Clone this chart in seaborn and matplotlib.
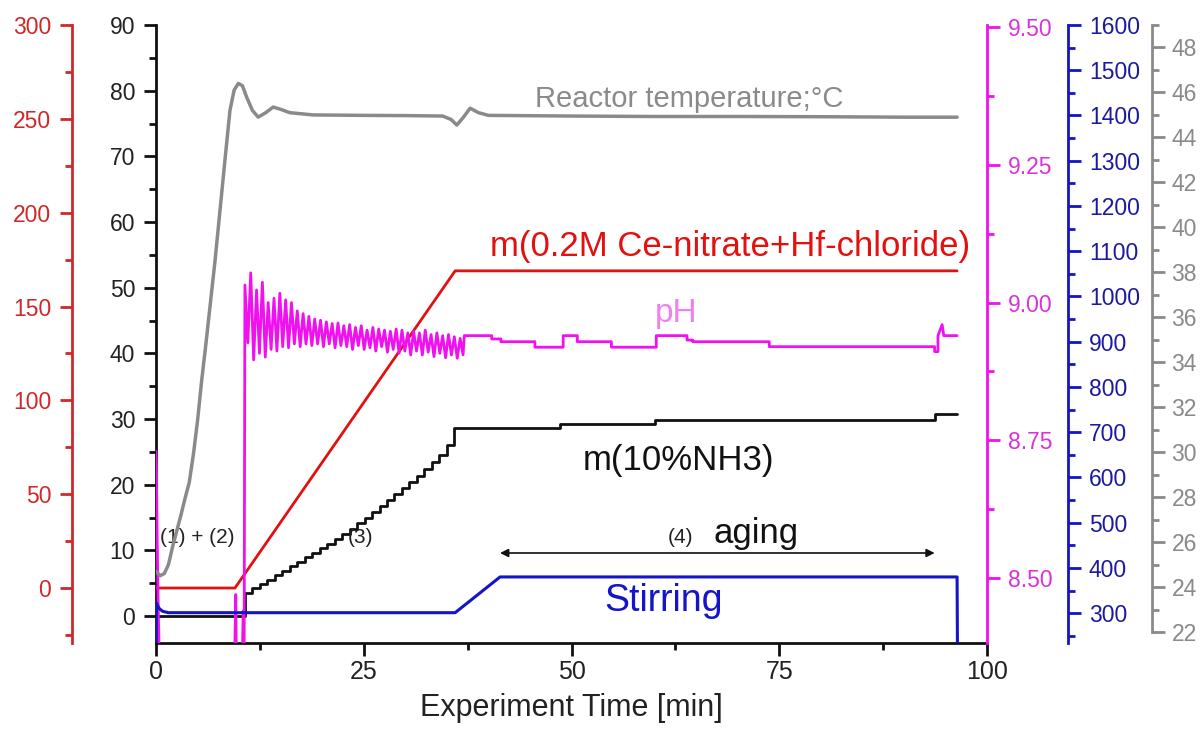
import numpy as np
import pandas as pd
import matplotlib
matplotlib.use('Agg')
import matplotlib.pyplot as plt
import seaborn as sns
from matplotlib.ticker import MultipleLocator, FormatStrFormatter

sns.set_theme(style='ticks')
plt.rcParams['font.family'] = ['Liberation Sans', 'DejaVu Sans']
NARROW = ['Liberation Sans Narrow', 'Liberation Sans', 'DejaVu Sans']

# ---------------- data ----------------
# Reactor temperature (grey axis, degC)
temp_t = [0.0, 0.5, 1.0, 1.5, 2.0, 2.5, 3.0, 3.5, 4.0, 4.5, 5.0, 5.5, 6.0, 7.1,
          8.3, 8.9, 9.4, 9.9, 10.4, 10.9, 11.6, 12.3, 13.2, 14.1, 15.0, 16.1,
          18.9, 25.0, 30.0, 34.5, 35.5, 36.2, 37.0, 37.8, 38.8, 40.0, 50.0, 60.0,
          70.0, 80.0, 90.0, 96.4]
temp_v = [24.7, 24.5, 24.6, 25.0, 25.8, 26.5, 27.2, 27.95, 28.65, 29.9, 31.4,
          33.2, 34.8, 38.5, 43.0, 45.2, 46.1, 46.4, 46.3, 45.8, 45.2, 44.9, 45.1,
          45.35, 45.25, 45.1, 45.0, 44.98, 44.97, 44.95, 44.8, 44.55, 44.9, 45.3,
          45.1, 44.98, 44.95, 44.93, 44.93, 44.92, 44.9, 44.9]

# m(0.2M Ce-nitrate + Hf-chloride) (red axis, g)
ce_t = [0.0, 9.5, 36.0, 96.4]
ce_v = [0.0, 0.0, 169.0, 169.0]

# m(10% NH3) (black axis, g) - stepwise dosing
nh3_t = [0.0, 10.7, 11.6, 12.5, 13.4, 14.3, 15.2, 16.1, 17.0, 17.9, 18.8, 19.7,
         20.6, 21.5, 22.4, 23.3, 24.2, 25.1, 26.0, 26.9, 27.8, 28.7, 29.6, 30.5,
         31.4, 32.3, 33.2, 34.1, 35.0, 35.9, 48.6, 60.0, 93.7, 96.4]
nh3_v = [0.0, 3.5, 4.2, 4.9, 5.5, 6.2, 6.9, 7.6, 8.3, 9.0, 9.6, 10.3, 11.0, 11.7,
         12.5, 13.3, 14.2, 15.0, 15.9, 16.8, 17.7, 18.6, 19.5, 20.4, 21.4, 22.4,
         23.4, 24.5, 26.0, 28.6, 29.2, 29.8, 30.8, 30.8]

# pH (magenta axis)
ph_t = [0.0, 0.05, 0.15, 0.3, 0.5, 9.4, 9.6, 9.7, 9.8, 10.3, 10.5, 10.6,
        10.70, 11.05, 11.40, 11.75, 12.10, 12.45, 12.80, 13.15, 13.50, 13.85,
        14.20, 14.55, 14.90, 15.25, 15.60, 15.95, 16.30, 16.65, 17.00, 17.35,
        17.70, 18.05, 18.40, 18.75, 19.10, 19.45, 19.80, 20.15, 20.50, 20.85,
        21.20, 21.55, 21.90, 22.25, 22.60, 22.95, 23.30, 23.65, 24.00, 24.35,
        24.70, 25.05, 25.40, 25.75, 26.10, 26.45, 26.80, 27.15, 27.50, 27.85,
        28.20, 28.55, 28.90, 29.25, 29.60, 29.95, 30.30, 30.65, 31.00, 31.35,
        31.70, 32.05, 32.40, 32.75, 33.10, 33.45, 33.80, 34.15, 34.50, 34.85,
        35.20, 35.55, 35.90, 36.25, 36.60, 36.95,
        37.1, 40.4, 40.4, 41.5, 41.5, 45.6, 45.6, 49.0, 49.0, 50.7, 50.7, 54.8,
        54.8, 60.2, 60.2, 63.9, 63.9, 64.6, 64.6, 73.8, 73.8, 93.7, 93.7, 94.1,
        94.1, 94.6, 94.8, 96.4]
ph_v = [8.73, 8.70, 8.56, 8.42, 8.30, 8.30, 8.47, 8.30, 8.30, 8.30, 8.44, 8.30,
        9.032, 8.927, 9.054, 8.896, 9.023, 8.908, 9.037, 8.901, 9.000, 8.915,
        9.008, 8.912, 9.017, 8.920, 9.005, 8.918, 9.000, 8.925, 8.985, 8.920,
        8.980, 8.925, 8.975, 8.922, 8.970, 8.925, 8.968, 8.920, 8.965, 8.925,
        8.962, 8.918, 8.963, 8.922, 8.958, 8.920, 8.960, 8.915, 8.955, 8.922,
        8.958, 8.915, 8.950, 8.918, 8.955, 8.912, 8.952, 8.920, 8.950, 8.910,
        8.948, 8.915, 8.952, 8.908, 8.950, 8.912, 8.945, 8.905, 8.948, 8.912,
        8.945, 8.905, 8.950, 8.910, 8.942, 8.902, 8.945, 8.908, 8.940, 8.900,
        8.942, 8.905, 8.938, 8.899, 8.935, 8.905,
        8.94, 8.94, 8.934, 8.934, 8.929, 8.929, 8.919, 8.919, 8.940, 8.940, 8.929,
        8.929, 8.919, 8.919, 8.940, 8.940, 8.932, 8.932, 8.929, 8.929, 8.920, 8.920,
        8.911, 8.911, 8.940, 8.960, 8.940, 8.940]

# Stirring (blue axis, rpm)
stir_t = [0.0, 0.05, 0.15, 0.4, 0.8, 1.5, 36.0, 41.4, 96.4, 96.45]
stir_v = [200, 322, 318, 310, 304, 301, 301, 380, 380, 200]

# axis tick values
x_ticks = [0, 25, 50, 75, 100]

# ---------------- figure ----------------
W, H = 1203, 729
fig = plt.figure(figsize=(W / 100, H / 100), dpi=100)
L, R, B, T = 156, 987, 643, 25
ax = fig.add_axes([L / W, 1 - B / H, (R - L) / W, (B - T) / H])

C_BLACK = '#111111'
C_RED_AX = '#d02828'
C_RED = '#e31010'
C_PINK = '#f010f0'
C_PINK_AX = '#dd30dd'
C_BLUE = '#1414c8'
C_BLUE_AX = '#1a1aa0'
C_GREY = '#8a8a8a'

ax_red = ax.twinx()
ax_ph = ax.twinx()
ax_blue = ax.twinx()
ax_grey = ax.twinx()

def pos(px):
    return (px - L) / (R - L)

def style_axis(a, side, color, offset_px, major, minor, lim, fmt,
               labelcolor=None, pad=4):
    for s in ['top', 'bottom', 'left', 'right']:
        a.spines[s].set_visible(False)
    a.spines[side].set_visible(True)
    a.spines[side].set_color(color)
    a.spines[side].set_linewidth(2.0)
    a.spines[side].set_position(('axes', pos(offset_px)))
    if side == 'left':
        a.yaxis.set_ticks_position('left')
    else:
        a.yaxis.set_ticks_position('right')
    a.set_ylim(*lim)
    a.yaxis.set_major_locator(MultipleLocator(major))
    a.yaxis.set_minor_locator(MultipleLocator(minor))
    a.yaxis.set_major_formatter(FormatStrFormatter(fmt))
    a.tick_params(axis='y', which='major', length=9, width=2, color=color,
                  labelcolor=labelcolor or color, labelsize=16.5, pad=pad,
                  direction='out')
    a.tick_params(axis='y', which='minor', length=5, width=2, color=color,
                  direction='out')
    a.grid(False)

# main (black) axis
for s in ['top', 'right']:
    ax.spines[s].set_visible(False)
for s in ['left', 'bottom']:
    ax.spines[s].set_color(C_BLACK)
    ax.spines[s].set_linewidth(2.0)
ax.set_xlim(0, 100)
ax.set_ylim(-4.1, 90)
ax.set_xticks(x_ticks)
ax.xaxis.set_minor_locator(MultipleLocator(12.5))
ax.yaxis.set_major_locator(MultipleLocator(10))
ax.yaxis.set_minor_locator(MultipleLocator(5))
ax.tick_params(axis='both', which='major', length=9, width=2, color=C_BLACK,
               labelcolor='#222222', labelsize=16.5, direction='out')
ax.tick_params(axis='both', which='minor', length=5, width=2, color=C_BLACK,
               direction='out')
ax.tick_params(axis='y', pad=6)
ax.tick_params(axis='x', labelsize=18, pad=3)
for lab in ax.get_xticklabels():
    lab.set_family(NARROW)
ax.grid(False)
ax.set_xlabel('Experiment Time [min]', fontsize=22, family=NARROW,
              color='#222222', labelpad=7)
ax.set_ylabel('')

style_axis(ax_red, 'left', C_RED_AX, 72, 50, 25, (-29.3, 300), '%d', pad=6)
style_axis(ax_ph, 'right', C_PINK, 987, 0.25, 0.125, (8.382, 9.504), '%.2f',
           C_PINK_AX, pad=6)
style_axis(ax_blue, 'right', C_BLUE, 1068, 100, 50, (234, 1600), '%d',
           C_BLUE_AX, pad=6)
style_axis(ax_grey, 'right', C_GREY, 1152, 2, 1, (21.51, 49.0), '%d', pad=5)
ax_grey.spines['right'].set_bounds(22, 49)
ax_grey.set_yticks(list(range(22, 49, 2)))

# ---------------- lines ----------------
df_temp = pd.DataFrame({'t': temp_t, 'v': temp_v})
df_ce = pd.DataFrame({'t': ce_t, 'v': ce_v})
df_nh3 = pd.DataFrame({'t': nh3_t, 'v': nh3_v})
df_ph = pd.DataFrame({'t': ph_t, 'v': ph_v})
df_stir = pd.DataFrame({'t': stir_t, 'v': stir_v})

sns.lineplot(data=df_nh3, x='t', y='v', ax=ax, color=C_BLACK, lw=2.0,
             estimator=None, sort=False, drawstyle='steps-post')
sns.lineplot(data=df_ce, x='t', y='v', ax=ax_red, color=C_RED, lw=2.0,
             estimator=None, sort=False)
sns.lineplot(data=df_ph, x='t', y='v', ax=ax_ph, color=C_PINK, lw=2.0,
             estimator=None, sort=False)
sns.lineplot(data=df_stir, x='t', y='v', ax=ax_blue, color=C_BLUE, lw=2.2,
             estimator=None, sort=False)
sns.lineplot(data=df_temp, x='t', y='v', ax=ax_grey, color=C_GREY, lw=2.5,
             estimator=None, sort=False)

for a in [ax, ax_red, ax_ph, ax_blue, ax_grey]:
    a.set_ylabel('')
    if a is not ax:
        a.set_xlabel('')

# ---------------- annotations ----------------
def fy(py):
    return (B - py) / (B - T)

ax.text(pos(535), fy(107), 'Reactor temperature;°C', transform=ax.transAxes,
        fontsize=21, color=C_GREY, ha='left', va='baseline')
ax.text(pos(490), fy(256), 'm(0.2M Ce-nitrate+Hf-chloride)', transform=ax.transAxes,
        fontsize=25, color=C_RED, ha='left', va='baseline')
ax.text(pos(655), fy(322), 'pH', transform=ax.transAxes,
        fontsize=24, color='#f080f0', ha='left', va='baseline')
ax.text(pos(583), fy(470), 'm(10%NH3)', transform=ax.transAxes,
        fontsize=25, color=C_BLACK, ha='left', va='baseline')
ax.text(pos(604), fy(611), 'Stirring', transform=ax.transAxes,
        fontsize=27, color=C_BLUE, ha='left', va='baseline')
ax.text(pos(160), fy(543), '(1) + (2)', transform=ax.transAxes,
        fontsize=15, color='#222222', ha='left', va='baseline')
ax.text(pos(348), fy(543), '(3)', transform=ax.transAxes,
        fontsize=15, color='#222222', ha='left', va='baseline')
ax.text(pos(668), fy(543), '(4)', transform=ax.transAxes,
        fontsize=15, color='#222222', ha='left', va='baseline')
ax.text(pos(713), fy(543), 'aging', transform=ax.transAxes,
        fontsize=25, color=C_BLACK, ha='left', va='baseline')
ax.annotate('', xy=(41.4, fy(553)), xytext=(93.7, fy(553)),
            xycoords=('data', 'axes fraction'), textcoords=('data', 'axes fraction'),
            arrowprops=dict(arrowstyle='<|-|>', color=C_BLACK, lw=1.2,
                            mutation_scale=12, shrinkA=0, shrinkB=0))

fig.savefig('out.png', dpi=100)
